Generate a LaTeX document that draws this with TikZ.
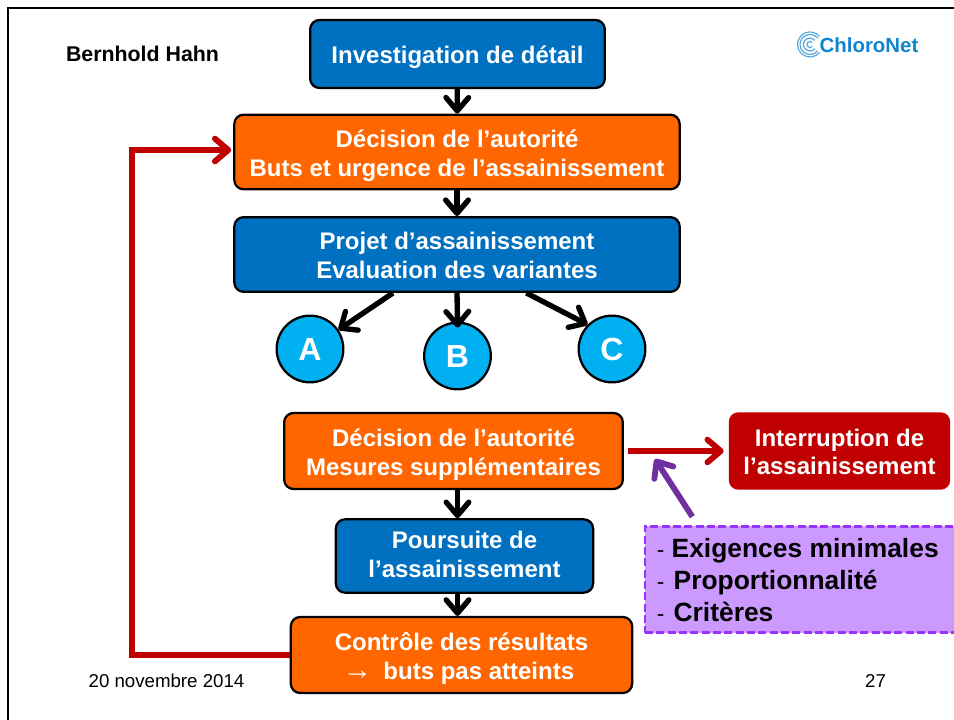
\documentclass[tikz,border=0pt]{standalone}
\usepackage{fontspec}
\setmainfont{Liberation Sans}
\usetikzlibrary{calc}
\usetikzlibrary{arrows.meta}
\definecolor{bleu}{HTML}{0070C0}
\definecolor{orange}{HTML}{FF6600}
\definecolor{rouge}{HTML}{C00000}
\definecolor{ciel}{HTML}{00B0F0}
\definecolor{violet}{HTML}{7030A0}
\definecolor{lilas}{HTML}{CC99FF}
\definecolor{lilasb}{HTML}{9933FF}
\definecolor{logo}{HTML}{0F85D0}
\newcommand{\cale}[1]{\rule{0pt}{#1}}
\tikzset{
 etape/.style={draw=black, line width=1.7pt, rounded corners=7pt, align=center, text=white,
   font=\fontsize{18}{21.5}\selectfont\bfseries, inner sep=0pt},
 rond/.style={circle, draw=black, line width=1.7pt, fill=ciel, text=white, minimum size=50pt,
   inner sep=0pt, font=\fontsize{24}{28}\selectfont\bfseries},
 pointe/.style={-{Straight Barb[length=10pt,width=17pt,round]}},
 fleche/.style={black, line width=4pt, pointe},
 retour/.style={rouge, line width=4.4pt, pointe},
 pied/.style={inner sep=0pt, font=\fontsize{14}{16}\selectfont},
}
\begin{document}
\begin{tikzpicture}[x=.75pt,y=-.75pt]
\useasboundingbox (0,0) rectangle (954,720);
\draw[black, line width=2.2pt] (8,722)--(8,8)--(956,8);
\node[inner sep=0pt, font=\fontsize{16}{18}\selectfont\bfseries] (auteur) at (142.5,54) {Bernhold Hahn};
\node[inner sep=0pt, text=logo, font=\fontsize{15.3}{17}\selectfont\bfseries] (logo) at (869,45) {ChloroNet};
\foreach \r in {3,6.5,10,12.5} {
 \draw[logo!70, line width=.9pt] ($(810,44.5)+(40:\r)$) arc (40:320:\r);
}
\node[etape, fill=bleu, minimum width=221pt, minimum height=51pt] (invest) at (457.5,54) {\cale{18.5pt}Investigation de détail};
\node[etape, fill=orange, minimum width=334pt, minimum height=56pt] (decisionA) at (457,152) {\cale{18.5pt}Décision de l’autorité\\Buts et urgence de l’assainissement};
\node[etape, fill=bleu, minimum width=334pt, minimum height=56pt] (projet) at (457,254.5) {\cale{14.5pt}Projet d’assainissement\\Evaluation des variantes};
\node[rond] (A) at (310,349) {A};
\node[rond] (B) at (457.5,356) {B};
\node[rond] (C) at (612,349) {C};
\node[etape, fill=orange, minimum width=254pt, minimum height=57pt] (decisionB) at (453.5,451) {\cale{18.5pt}Décision de l’autorité\\Mesures supplémentaires};
\node[etape, fill=rouge, draw=none, minimum width=166pt, minimum height=58pt] (stop) at (839.5,451) {\cale{14.5pt}Interruption de\\l’assainissement};
\node[etape, fill=bleu, minimum width=193pt, minimum height=55pt] (poursuite) at (464.5,556) {Poursuite de\\l’assainissement\rule[-3pt]{0pt}{3pt}};
\node[etape, fill=orange, minimum width=256pt, minimum height=57pt] (controle) at (461.5,655) {\cale{18.5pt}Contrôle des résultats\\{\mdseries\fontsize{22}{21.5}\selectfont →}\ \kern3.5pt buts pas atteints\kern4.5pt};
\node[draw=lilasb, fill=lilas, line width=2.2pt, dash pattern=on 6pt off 2.5pt, minimum width=237pt, minimum height=80pt, inner sep=0pt] (criteres) at (803,579.5) {};
\node[anchor=west, inner sep=0pt, align=left, font=\fontsize{19.8}{24}\selectfont\bfseries] (liste) at (656.5,580)
 {{\mdseries\fontsize{17}{24}\selectfont -} Exigences minimales\\{\mdseries\fontsize{17}{24}\selectfont -}\kern1.5pt{} Proportionnalité\\{\mdseries\fontsize{17}{24}\selectfont -}\kern1.5pt{} Critères};
\node[pied] (date) at (166.5,681) {20 novembre 2014};
\node[pied] (page) at (875.5,681) {27};
\coordinate (coin) at (132,655);
\coordinate (rouge) at (655,459);
\draw[fleche] (invest) -- (decisionA);
\draw[fleche] (decisionA) -- (projet);
\draw[fleche] ([xshift=-48]projet.south) -- (A);
\draw[fleche, shorten >=-4.5pt] (projet.south) -- (B.north);
\draw[fleche] ([xshift=52]projet.south) -- (C.135);
\draw[fleche] (decisionB.south -| invest) -- (poursuite.north -| invest);
\draw[fleche] (poursuite.south -| invest) -- (controle.north -| invest);
\draw[retour, shorten >=1.5pt] (controle.west) -- (coin) |- ([yshift=1.5pt]decisionA.west);
\draw[retour, shorten <=3pt, shorten >=3pt] (decisionB.east) -- (stop.west);
\draw[violet, line width=4.4pt, pointe] ([xshift=-83pt,yshift=6pt]criteres.north) -- (rouge);
\end{tikzpicture}
\end{document}
